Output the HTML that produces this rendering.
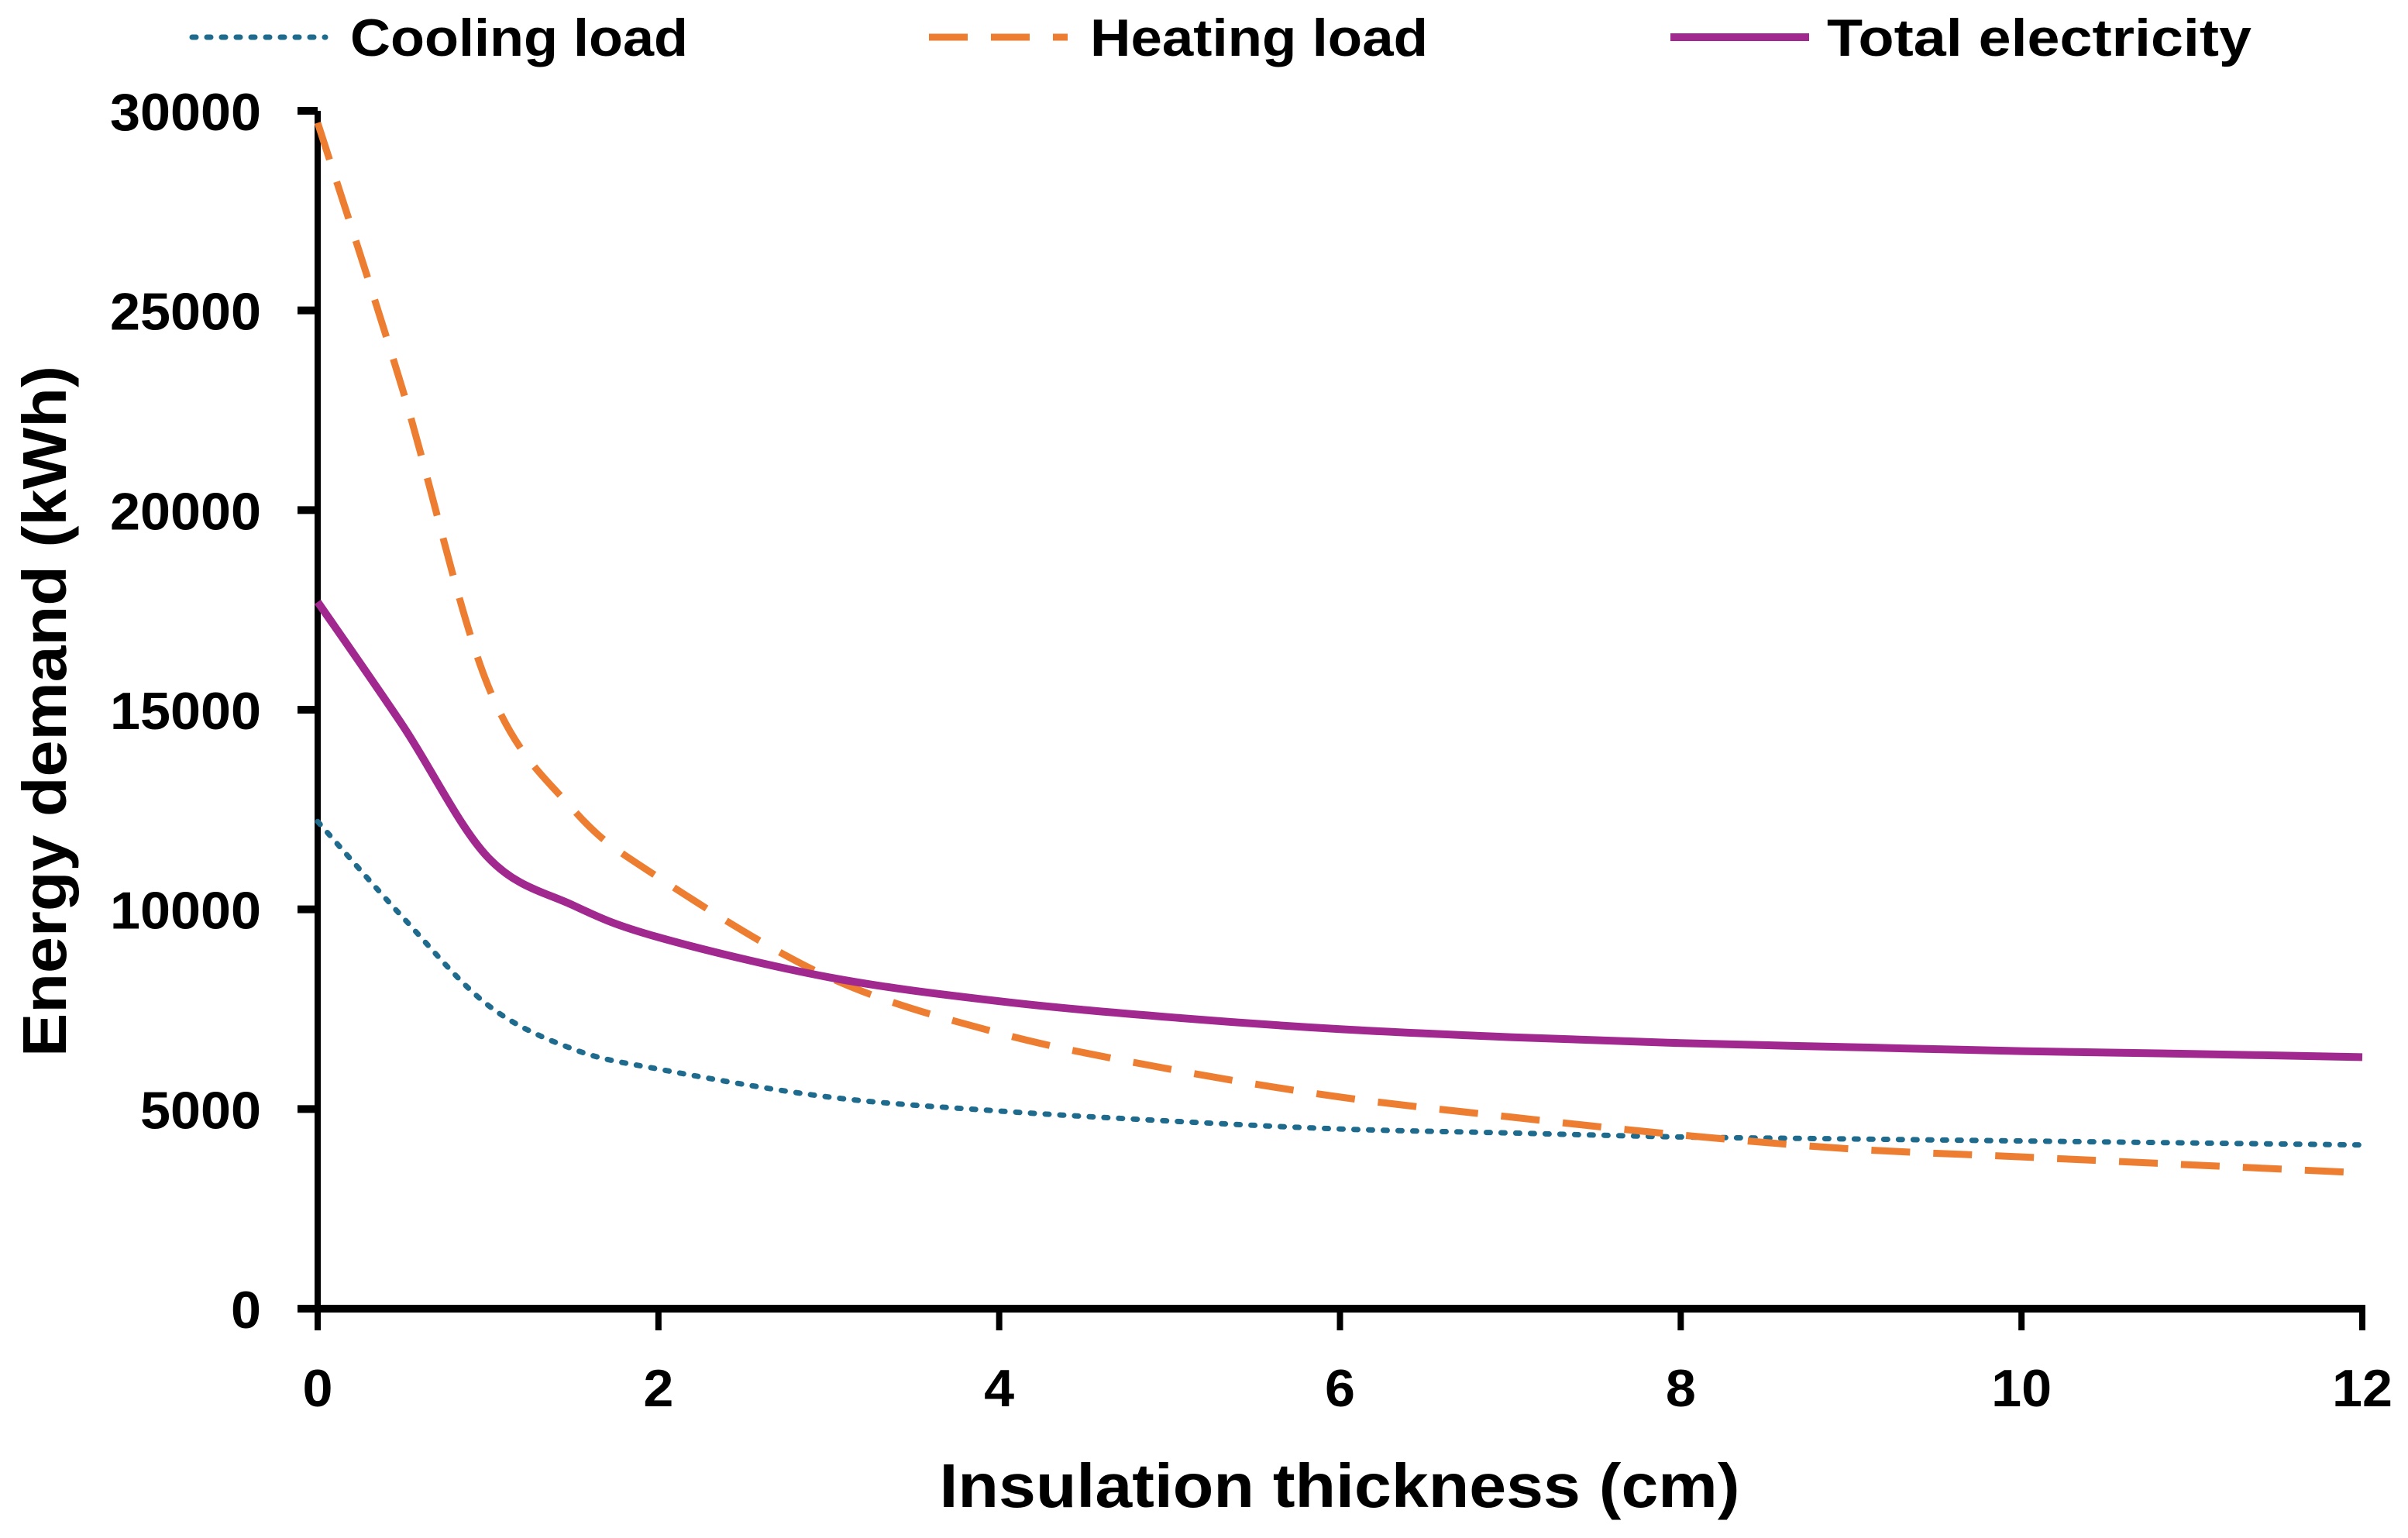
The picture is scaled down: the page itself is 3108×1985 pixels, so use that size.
<!DOCTYPE html>
<html><head><meta charset="utf-8"><style>
html,body{margin:0;padding:0;background:#fff;}
svg text{font-family:"Liberation Sans",sans-serif;font-weight:bold;fill:#000;}
</style></head><body>
<svg id="chart" width="3108" height="1980" viewBox="0 0 3108 1980" xmlns="http://www.w3.org/2000/svg">
<g id="legend">
  <g>
    <line x1="248" y1="48" x2="420" y2="48" stroke="#1f6b8e" stroke-width="7" stroke-dasharray="5 14" stroke-linecap="round"/>
    <text x="452" y="72" font-size="68" textLength="436" lengthAdjust="spacingAndGlyphs">Cooling load</text>
  </g>
  <g>
    <line x1="1199" y1="48" x2="1378" y2="48" stroke="#ed7d31" stroke-width="9" stroke-dasharray="50 30"/>
    <text x="1407" y="72" font-size="68" textLength="436" lengthAdjust="spacingAndGlyphs">Heating load</text>
  </g>
  <g>
    <line x1="2156" y1="48" x2="2335" y2="48" stroke="#a0288f" stroke-width="10"/>
    <text x="2358" y="72" font-size="68" textLength="548" lengthAdjust="spacingAndGlyphs">Total electricity</text>
  </g>
</g>
<g id="axes"></g>
<g id="series"></g>
<text x="1729" y="1945" font-size="80" text-anchor="middle" textLength="1033" lengthAdjust="spacingAndGlyphs">Insulation thickness (cm)</text>
<text transform="translate(85,918) rotate(-90)" font-size="80" text-anchor="middle" textLength="892" lengthAdjust="spacingAndGlyphs">Energy demand (kWh)</text>
</svg>
<script>
const xValues = [0, 0.5, 1, 1.5, 2, 3, 4, 5, 6, 7, 8, 9, 10, 11, 12];
const coolingLoad = [12200, 9800, 7600, 6500, 6000, 5300, 4950, 4700, 4500, 4400, 4300, 4250, 4200, 4150, 4100];
const heatingLoad = [29700, 23000, 15600, 12500, 10800, 8300, 6900, 6000, 5300, 4800, 4350, 4000, 3800, 3600, 3400];
const totalElectricity = [17700, 14600, 11300, 10100, 9300, 8300, 7700, 7300, 7000, 6800, 6650, 6550, 6450, 6380, 6300];
const xTicks = [0, 2, 4, 6, 8, 10, 12];
const yTicks = [0, 5000, 10000, 15000, 20000, 25000, 30000];

const X0 = 410, X1 = 3049, Y0 = 1689, Y1 = 143;
const xMax = 12, yMax = 30000;
function sx(v){ return X0 + (X1 - X0) * v / xMax; }
function sy(v){ return Y0 - (Y0 - Y1) * v / yMax; }
const NS = 'http://www.w3.org/2000/svg';
function mk(tag, attrs, parent){
  const e = document.createElementNS(NS, tag);
  for (const k in attrs) e.setAttribute(k, attrs[k]);
  parent.appendChild(e);
  return e;
}
const axes = document.getElementById('axes');
const ya = mk('line', {x1:X0, y1:Y1, x2:X0, y2:Y0+4, stroke:'#000', 'stroke-width':8}, axes);


const xa = mk('line', {x1:X0-14, y1:Y0, x2:X1+4, y2:Y0, stroke:'#000', 'stroke-width':10}, axes);


yTicks.forEach(t => {
  const tk = mk('line', {x1:X0-26, y1:sy(t), x2:X0, y2:sy(t), stroke:'#000', 'stroke-width':10}, axes);
  
  
  const s = String(t);
  const lb = mk('text', {x:337, y:sy(t)+25, 'font-size':68, 'text-anchor':'end', textLength:s.length*39, lengthAdjust:'spacingAndGlyphs'}, axes);
  
  
  lb.textContent = s;
});
xTicks.forEach(t => {
  const tk = mk('line', {x1:sx(t), y1:Y0, x2:sx(t), y2:Y0+28, stroke:'#000', 'stroke-width':8}, axes);
  
  
  const s = String(t);
  const lb = mk('text', {x:sx(t), y:1815, 'font-size':68, 'text-anchor':'middle', textLength:s.length*39, lengthAdjust:'spacingAndGlyphs'}, axes);
  
  
  lb.textContent = s;
});
function smoothPath(xs, ys){
  const p = xs.map((x,i)=>[sx(x), sy(ys[i])]);
  let d = 'M' + p[0][0] + ',' + p[0][1];
  for (let i=0;i<p.length-1;i++){
    const p0 = p[i-1]||p[i], p1=p[i], p2=p[i+1], p3=p[i+2]||p2;
    const c1x = p1[0]+(p2[0]-p0[0])/6, c1y = p1[1]+(p2[1]-p0[1])/6;
    const c2x = p2[0]-(p3[0]-p1[0])/6, c2y = p2[1]-(p3[1]-p1[1])/6;
    d += ' C'+c1x+','+c1y+' '+c2x+','+c2y+' '+p2[0]+','+p2[1];
  }
  return d;
}
const series = document.getElementById('series');
const c = mk('path', {d:smoothPath(xValues, coolingLoad), fill:'none', stroke:'#1f6b8e', 'stroke-width':7, 'stroke-dasharray':'5 14', 'stroke-linecap':'round'}, series);


const h = mk('path', {d:smoothPath(xValues, heatingLoad), fill:'none', stroke:'#ed7d31', 'stroke-width':9, 'stroke-dasharray':'50 30'}, series);


const tl = mk('path', {d:smoothPath(xValues, totalElectricity), fill:'none', stroke:'#a0288f', 'stroke-width':10}, series);


</script>
</body></html>
